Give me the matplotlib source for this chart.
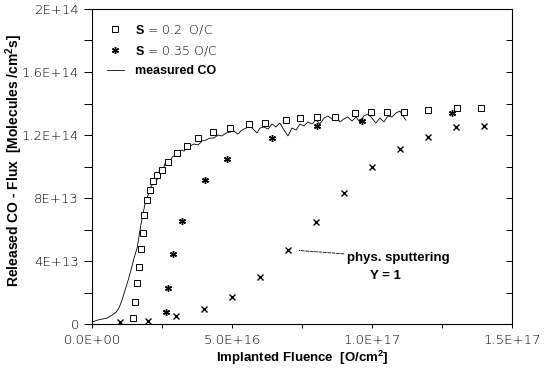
import matplotlib
matplotlib.use('Agg')
import matplotlib.pyplot as plt
import numpy as np

# measured CO flux (x in 1e16 O/cm2, y in 1e13 molecules/cm2s)
co_x = [0.00, 0.18, 0.36, 0.54, 0.71, 0.86, 0.96, 1.07, 1.18, 1.29, 1.39, 1.50, 1.61, 1.68,
        1.75, 1.82, 1.89, 1.96, 2.04, 2.11, 2.18, 2.25, 2.32, 2.39, 2.46, 2.54, 2.61, 2.68,
        2.79, 2.86, 2.96, 3.07, 3.18, 3.29, 3.39, 3.50, 3.64, 3.79, 3.93, 4.07, 4.21, 4.36,
        4.50, 4.64, 4.79, 4.93, 5.07, 5.21, 5.36, 5.50, 5.64, 5.79, 5.89, 6.00, 6.14, 6.29,
        6.43, 6.57, 6.71, 6.86, 7.00, 7.14, 7.29, 7.43, 7.57, 7.71, 7.86, 8.00, 8.14, 8.29,
        8.43, 8.57, 8.71, 8.86, 9.00, 9.14, 9.29, 9.43, 9.57, 9.71, 9.86, 10.00, 10.14,
        10.29, 10.43, 10.57, 10.71, 10.86, 11.00, 11.11, 11.21]
co_y = [0.13, 0.25, 0.32, 0.38, 0.57, 0.76, 1.02, 1.52, 2.16, 2.79, 3.43, 4.19, 4.83, 5.59,
        6.35, 6.98, 7.62, 8.00, 8.38, 8.76, 8.89, 9.27, 9.14, 9.65, 9.90, 9.78, 10.22, 10.41,
        10.22, 10.60, 10.73, 10.86, 11.05, 10.98, 11.24, 11.30, 11.43, 11.37, 11.62, 11.68,
        11.81, 11.81, 12.00, 11.94, 12.13, 12.19, 12.25, 12.06, 12.32, 12.44, 12.57, 12.32,
        12.13, 12.44, 12.51, 12.38, 12.70, 12.51, 12.76, 12.32, 11.94, 12.44, 12.32, 12.70,
        12.57, 12.83, 12.70, 12.95, 12.70, 13.08, 13.21, 13.02, 13.21, 12.83, 13.02, 13.14,
        12.89, 13.14, 12.83, 13.21, 13.33, 13.08, 12.76, 13.08, 12.83, 13.21, 13.14, 13.40,
        13.52, 13.21, 12.95]

# model S = 0.2 O/C
s02_x = [1.46, 1.54, 1.61, 1.68, 1.75, 1.82, 1.86, 1.96, 2.07, 2.18, 2.32, 2.50, 2.71, 3.04,
         3.39, 3.79, 4.32, 4.93, 5.61, 6.18, 6.93, 7.43, 8.04, 8.68, 9.39, 9.96, 10.54, 11.14,
         12.0, 13.04, 13.89]
s02_y = [0.38, 1.40, 2.60, 3.62, 4.76, 5.78, 6.92, 7.87, 8.51, 9.08, 9.46, 9.78, 10.29, 10.86,
         11.30, 11.81, 12.19, 12.44, 12.70, 12.76, 12.95, 13.08, 13.14, 13.14, 13.40, 13.46,
         13.46, 13.46, 13.59, 13.71, 13.71]

# model S = 0.35 O/C
s035_x = [2.64, 2.71, 2.89, 3.21, 4.04, 4.82, 6.43, 8.04, 9.64, 12.86]
s035_y = [0.76, 2.29, 4.45, 6.54, 9.14, 10.48, 11.8, 12.57, 12.9, 13.4]

# physical sputtering Y = 1
ps_x = [1, 2, 3, 4, 5, 6, 7, 8, 9, 10, 11, 12, 13, 14]
ps_y = [0.13, 0.2, 0.51, 0.95, 1.71, 2.98, 4.70, 6.48, 8.32, 9.97, 11.1, 11.9, 12.5, 12.6]

yticks = [0, 4e13, 8e13, 1.2e14, 1.6e14, 2e14]
ylabels = ['0', '4E+13', '8E+13', '1.2E+14', '1.6E+14', '2E+14']
xticks = [0, 5e16, 1e17, 1.5e17]
xlabels = ['0.0E+00', '5.0E+16', '1.0E+17', '1.5E+17']

plt.rcParams['mathtext.fontset'] = 'custom'
plt.rcParams['mathtext.bf'] = 'Liberation Sans:bold'
plt.rcParams['mathtext.rm'] = 'Liberation Sans:bold'
plt.rcParams['mathtext.it'] = 'Liberation Sans:bold'

fig = plt.figure(figsize=(5.48, 3.73), dpi=100)
ax = fig.add_axes([0.168, 0.131, 0.766, 0.845])

sx = 1e16
sy = 1e13
ax.plot(np.array(co_x) * sx, np.array(co_y) * sy, color='black', lw=0.6, label='measured CO')
ax.plot(np.array(s02_x) * sx, np.array(s02_y) * sy, ls='none', marker='s', ms=4.6,
        mfc='white', mec='black', mew=0.7, label=r'$\mathbf{S}$ = 0.2  O/C')
ax.plot(np.array(s035_x) * sx, np.array(s035_y) * sy, ls='none', marker=(6, 2, 0), ms=5,
        color='black', mew=1.0, label=r'$\mathbf{S}$ = 0.35 O/C')
ax.plot(np.array(ps_x) * sx, np.array(ps_y) * sy, ls='none', marker='x', ms=5,
        color='black', mew=1.0)

ax.set_xlim(0, 1.5e17)
ax.set_ylim(0, 2e14)

tickfont = {'family': 'DejaVu Sans', 'weight': 'light', 'size': 9.5}
ax.set_yticks(yticks)
ax.set_yticklabels(ylabels, fontdict=tickfont)
ax.set_yticks(np.arange(2e13, 2e14, 4e13), minor=True)
ax.set_xticks(xticks)
ax.set_xticklabels(xlabels, fontdict=tickfont)
ax.set_xticks(np.arange(2.5e16, 1.5e17, 5e16), minor=True)
ax.tick_params(axis='y', which='both', direction='out', length=6, width=0.7, right=True)
ax.tick_params(axis='x', which='both', direction='out', length=3, width=0.7, pad=4)
for t in ax.yaxis.get_major_ticks() + ax.yaxis.get_minor_ticks():
    t.tick2line.set_marker(matplotlib.lines.TICKLEFT)
    t.tick2line.set_markersize(4)
for sp in ax.spines.values():
    sp.set_linewidth(0.8)

ax.set_ylabel('Released CO - Flux  [Molecules /cm$^2$s]', fontsize=10,
              fontweight='bold', family='Liberation Sans')
ax.yaxis.set_label_coords(-0.16, 0.52)
ax.set_xlabel('Implanted Fluence  [O/cm$^2$]', fontsize=9.5,
              fontweight='bold', family='Liberation Sans', labelpad=2)

h, l = ax.get_legend_handles_labels()
leg = ax.legend([h[1], h[2], h[0]], [l[1], l[2], l[0]], loc='upper left',
                bbox_to_anchor=(0.008, 0.99), frameon=False, handlelength=1.4,
                handletextpad=0.85, labelspacing=0.55,
                prop={'family': 'DejaVu Sans', 'weight': 'light', 'size': 9})
leg.get_texts()[2].set_fontweight('bold')
leg.get_texts()[2].set_family('Liberation Sans')

ax.annotate('phys. sputtering', xy=(7.2e16, 4.7e13), xytext=(9.1e16, 4.2e13),
            fontsize=9.5, fontweight='bold', family='Liberation Sans', va='center',
            arrowprops=dict(arrowstyle='-', ls='--', lw=0.6, color='black',
                            shrinkA=0, shrinkB=4))
ax.text(1.05e17, 3.05e13, 'Y = 1', fontsize=9.5, fontweight='bold',
        family='Liberation Sans', ha='center', va='center')

fig.savefig('out.png', dpi=100)
